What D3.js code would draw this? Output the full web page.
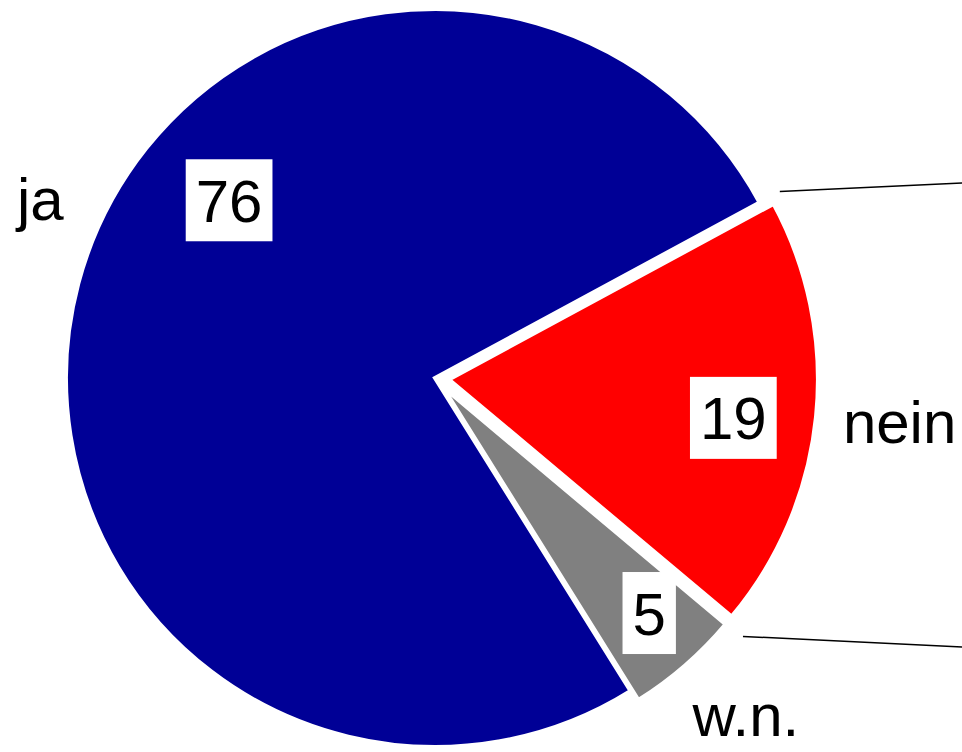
<!DOCTYPE html>
<html>
<head>
    <title>Pie Chart</title>
</head>
<style>
body { margin: 0; background: #fff; }
text { font-family: "Liberation Sans", Arial, sans-serif; }
</style>
<body>

<script src="https://cdnjs.cloudflare.com/ajax/libs/d3/7.8.5/d3.min.js"></script>
<script>

var categories = ["ja", "nein", "w.n."];
var values = [76, 19, 5];
var colors = ["#000096", "#ff0000", "#808080"];

var w = 962;
var h = 752;
var cx = 435;
var cy = 378;
var radius = 369;
var fontSize = 60;
var deg = Math.PI / 180;

var data = categories.map(function(c, i) {
    return { name: c, value: values[i], color: colors[i] };
});

// blue starts at the lower left and runs round to the upper right
var pie = d3.pie()
    .sort(null)
    .value(function(d) { return d.value; })
    .startAngle(148 * deg)
    .endAngle(508 * deg);

var arcs = pie(data);
var arc = d3.arc().innerRadius(0).outerRadius(radius);

// small slices are pulled out a bit
var explode = [0, 14, 12];
// where the value boxes sit: [angle offset from mid, radius]
var valuePos = [[26, 272], [1.9, 287], [-1.4, 306]];
// where the category names sit
var namePos = [[9.2, 432], [0, 467], [-1.4, 461]];

function polar(a, r) {
    return [Math.sin(a) * r, -Math.cos(a) * r];
}
function mid(d) {
    return (d.startAngle + d.endAngle) / 2;
}

var svg = d3.select("body").append("svg")
    .attr("width", w)
    .attr("height", h);

var g = svg.append("g")
    .attr("transform", "translate(" + cx + "," + cy + ")");

var slices = g.selectAll("g.slice")
    .data(arcs)
    .enter()
    .append("g")
    .attr("class", "slice")
    .attr("transform", function(d, i) {
        var p = polar(mid(d), explode[i]);
        return "translate(" + p[0] + "," + p[1] + ")";
    });

slices.append("path")
    .attr("d", arc)
    .attr("fill", function(d) { return d.data.color; })
    .attr("stroke", "#fff")
    .attr("stroke-width", 4)
    .attr("stroke-linejoin", "miter");

// leader lines at slice borders, running off to the right edge
var leaders = [
    { a: arcs[1].startAngle, r: 392, x2: w + 20, y2: 182 },
    { a: arcs[1].endAngle, r: 402, x2: w + 20, y2: 648 }
];
g.selectAll("line.leader")
    .data(leaders)
    .enter()
    .append("line")
    .attr("class", "leader")
    .attr("x1", function(d) { return polar(d.a, d.r)[0]; })
    .attr("y1", function(d) { return polar(d.a, d.r)[1]; })
    .attr("x2", function(d) { return d.x2 - cx; })
    .attr("y2", function(d) { return d.y2 - cy; })
    .attr("stroke", "#000")
    .attr("stroke-width", 1.5);

// value boxes
var labels = g.selectAll("g.value")
    .data(arcs)
    .enter()
    .append("g")
    .attr("class", "value")
    .attr("transform", function(d, i) {
        var p = polar(mid(d) + valuePos[i][0] * deg, valuePos[i][1]);
        var e = polar(mid(d), explode[i]);
        return "translate(" + (p[0] + e[0]) + "," + (p[1] + e[1]) + ")";
    });

labels.append("text")
    .attr("text-anchor", "middle")
    .attr("y", fontSize * 0.36)
    .attr("font-size", fontSize + "px")
    .attr("fill", "#000")
    .text(function(d) { return d.data.value; });

labels.each(function() {
    var gg = d3.select(this);
    var bb = gg.select("text").node().getBBox();
    gg.insert("rect", "text")
        .attr("x", bb.x - 10)
        .attr("y", -41)
        .attr("width", bb.width + 20)
        .attr("height", 82)
        .attr("fill", "#fff");
});

// category names
g.selectAll("text.name")
    .data(arcs)
    .enter()
    .append("text")
    .attr("class", "name")
    .attr("text-anchor", "middle")
    .attr("x", function(d, i) {
        return polar(mid(d) + namePos[i][0] * deg, namePos[i][1])[0];
    })
    .attr("y", function(d, i) {
        return polar(mid(d) + namePos[i][0] * deg, namePos[i][1])[1] + fontSize * 0.3;
    })
    .attr("font-size", fontSize + "px")
    .attr("fill", "#000")
    .text(function(d) { return d.data.name; });

</script>
</body>
</html>
